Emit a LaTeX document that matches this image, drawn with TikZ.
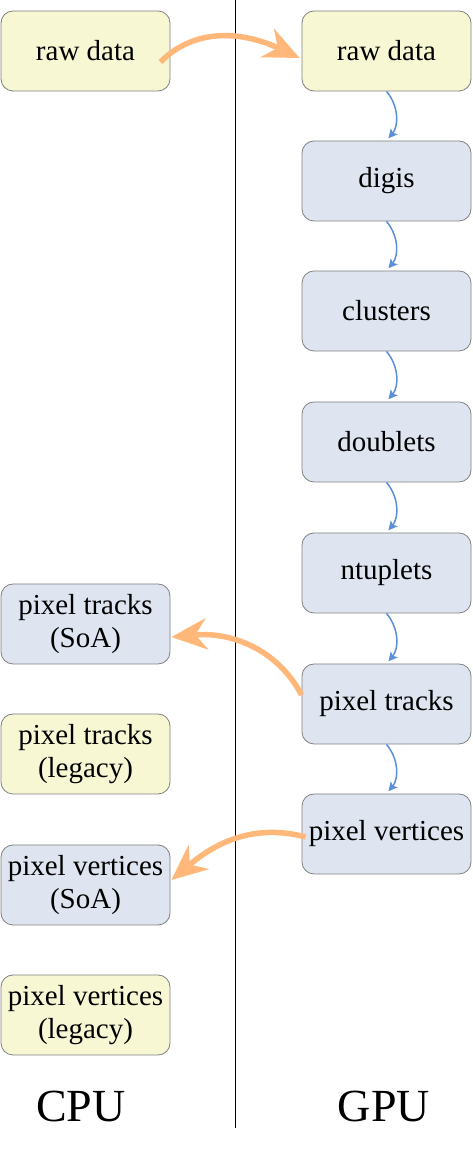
\documentclass[tikz,border=0pt]{standalone}
\usepackage{fontspec}
\setmainfont{Liberation Serif}
\usetikzlibrary{arrows.meta}
\begin{document}
\begin{tikzpicture}[x=1pt,y=1pt]
\definecolor[named]{hostFill}{rgb}{0.97,0.97,0.83}
\definecolor[named]{devFill}{rgb}{0.87,0.90,0.94}
\definecolor[named]{boxDraw}{rgb}{0.50,0.50,0.50}
\definecolor[named]{copyColor}{rgb}{1.00,0.72,0.48}
\definecolor[named]{stepColor}{rgb}{0.36,0.56,0.85}
\tikzset{
  product/.style={draw=boxDraw,line width=0.8pt,rounded corners=12pt,
    minimum width=169pt,minimum height=80pt,inner sep=2pt,align=center,
    font=\fontsize{29}{33}\selectfont},
  hostbox/.style={product,fill=hostFill},
  devbox/.style={product,fill=devFill},
  copyarrow/.style={draw=copyColor,line width=5.5pt,
    -{Stealth[length=36pt,width=32pt,inset=12pt,line width=0pt]}},
  steparrow/.style={draw=stepColor,line width=1.5pt,shorten >=3pt,
    -{Stealth[length=9pt,width=9pt,inset=2pt]}},
  sidelabel/.style={font=\fontsize{46}{50}\selectfont}
}
\path[use as bounding box,fill=white] (0,0) rectangle (472,1174);
% divider between host and device
\coordinate (divtop) at (235,1174);
\coordinate (divbot) at (235,46);
\draw[line width=0.8pt] (divtop) -- (divbot);

% CPU side
\node[hostbox] (cpuraw) at ( 85.5,1123) {raw data};
\node[devbox]  (soatracks) at ( 85.5, 550) {pixel tracks\\(SoA)};
\node[hostbox] (legtracks) at ( 85.5, 420) {pixel tracks\\(legacy)};
\node[devbox]  (soavertices) at ( 85.5, 289) {pixel vertices\\(SoA)};
\node[hostbox] (legvertices) at ( 85.5, 159) {pixel vertices\\(legacy)};

% GPU side
\node[hostbox] (gpuraw) at (386.5,1123) {raw data};
\node[devbox]  (digis) at (386.5, 993) {digis};
\node[devbox]  (clusters) at (386.5, 863) {clusters};
\node[devbox]  (doublets) at (386.5, 732) {doublets};
\node[devbox]  (ntuplets) at (386.5, 601) {ntuplets};
\node[devbox]  (tracks) at (386.5, 470) {pixel tracks};
\node[devbox]  (vertices) at (386.5, 340) {pixel vertices};

\node[sidelabel] (cpulabel) at ( 81, 68) {CPU};
\node[sidelabel] (gpulabel) at (384, 68) {GPU};

% steps on the device
\draw[steparrow] (gpuraw.south) to[bend left=40] (digis.north);
\draw[steparrow] (digis.south) to[bend left=40] (clusters.north);
\draw[steparrow] (clusters.south) to[bend left=40] (doublets.north);
\draw[steparrow] (doublets.south) to[bend left=40] (ntuplets.north);
\draw[steparrow] (ntuplets.south) to[bend left=40] (tracks.north);
\draw[steparrow] (tracks.south) to[bend left=40] (vertices.north);

% copies between host and device
\draw[copyarrow] ([xshift=-10pt,yshift=-11pt]cpuraw.east) to[out=45,in=155]
  ([xshift=-2pt,yshift=-7pt]gpuraw.west);
\draw[copyarrow] ([yshift=9pt]tracks.west) to[out=118,in=5]
  ([xshift=1pt,yshift=-13pt]soatracks.east);
\draw[copyarrow] ([xshift=4pt,yshift=-3pt]vertices.west) to[out=165,in=40]
  ([xshift=1pt,yshift=5pt]soavertices.east);
\end{tikzpicture}
\end{document}
